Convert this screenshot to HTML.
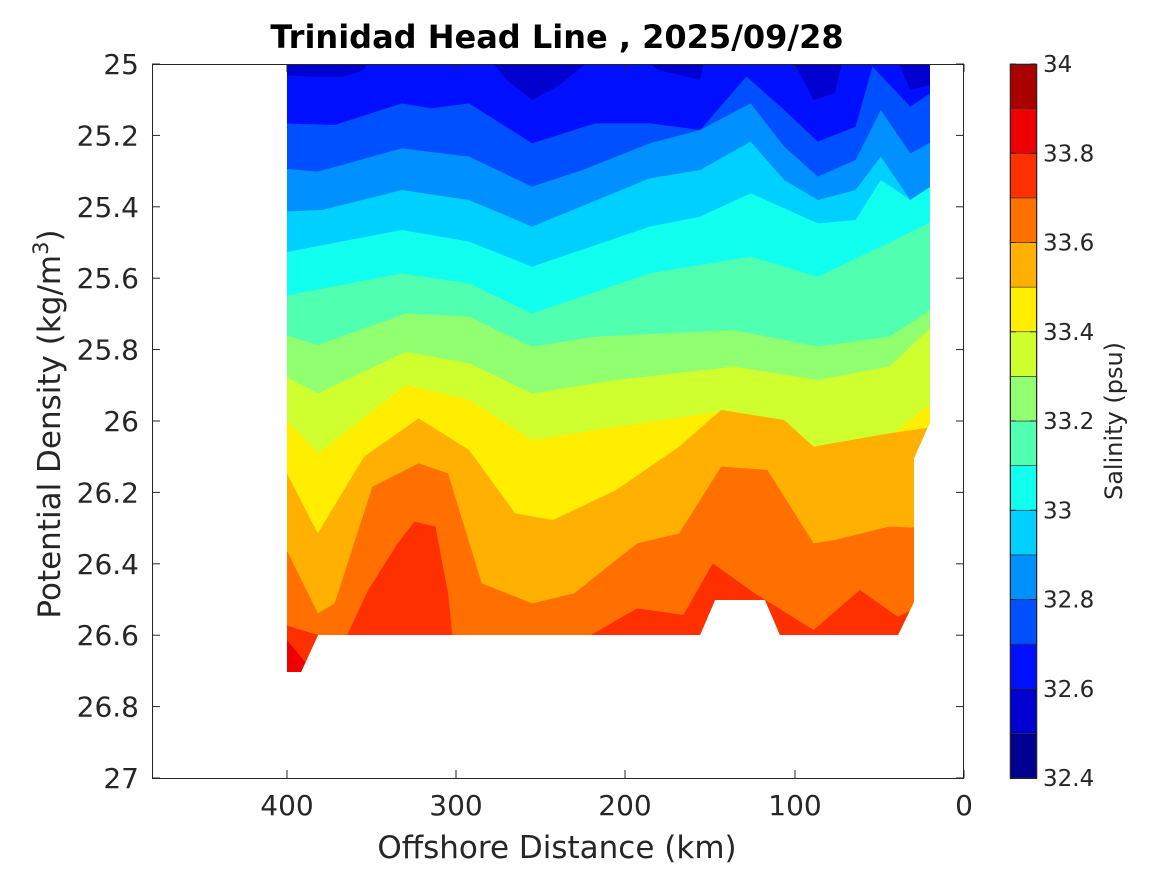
<!DOCTYPE html>
<html><head><meta charset="utf-8"><style>
body{margin:0;background:#fff;}
svg text{font-family:"DejaVu Sans","Liberation Sans",sans-serif;fill:#262626;}
</style></head><body>
<svg width="1167" height="875" viewBox="0 0 1167 875" xmlns="http://www.w3.org/2000/svg">
<defs>
<clipPath id="c"><polygon points="287,64 930,64 930,422 914,458 914,602 898,635 780,635 765,600 715,600 700,635 318,635 301,672 287,672"/></clipPath>
</defs>
<g clip-path="url(#c)" id="bands"></g>
<rect x="152.5" y="64.5" width="811" height="714" fill="none" stroke="#262626" stroke-width="1"/>
<g id="ax" stroke="#262626" stroke-width="1"></g>
<text x="557" y="48" text-anchor="middle" font-size="32" font-weight="bold" style="fill:#000">Trinidad Head Line , 2025/09/28</text>
<text x="557" y="858" text-anchor="middle" font-size="31">Offshore Distance (km)</text>
<text transform="translate(60,424) rotate(-90)" text-anchor="middle" font-size="31">Potential Density (kg/m<tspan dy="-12" font-size="21">3</tspan><tspan dy="12">)</tspan></text>
<g id="cb"></g>
<rect x="1010.5" y="64.5" width="26" height="714" fill="none" stroke="#262626"/>
<text transform="translate(1122,421) rotate(-90)" text-anchor="middle" font-size="24">Salinity (psu)</text>
</svg>
<script>
var NS="http://www.w3.org/2000/svg";
function el(p,t,a,txt){var e=document.createElementNS(NS,t);for(var k in a)e.setAttribute(k,a[k]);if(txt!==undefined)e.textContent=txt;p.appendChild(e);return e;}
var cols=["#000090","#0000d0","#0010ff","#0050ff","#0090ff","#00d0ff","#10ffef","#50ffaf","#90ff70","#d0ff30","#ffee00","#ffb000","#ff7000","#ff3000","#ee0000","#aa0000"];
function X(px){return 280+px/2.38;}
function z2(a){return a.map(function(p){return [X(p[0]),60+p[1]/3];});}
function z1(a){return a.map(function(p){return [X(p[0]),300+p[1]/3];});}
var B=[
 z2([[0,190],[130,195],[290,130],[360,145],[450,130],[600,250],[750,190],[880,190],[1000,210],[1110,50],[1200,150],[1280,245],[1370,200],[1410,20],[1500,140],[1560,90]]),
 z2([[0,325],[90,335],[290,265],[450,290],[600,380],[720,330],[880,250],[1000,210],[1120,130],[1200,260],[1280,350],[1370,300],[1430,150],[1500,280],[1560,240]]),
 z2([[0,455],[100,450],[290,390],[450,420],[600,500],[880,355],[1000,330],[1120,245],[1200,360],[1280,420],[1370,390],[1430,290],[1500,420],[1560,370]]),
 z2([[0,580],[290,510],[450,545],[600,620],[880,500],[1000,470],[1120,400],[1280,490],[1370,480],[1430,360],[1500,420],[1560,370]]),
 z2([[0,710],[290,640],[450,670],[600,760],[880,640],[1120,590],[1280,650],[1430,560],[1560,480]]),
 z1([[0,100],[90,135],[300,40],[450,50],[600,140],[750,110],[1080,90],[1280,140],[1450,110],[1560,20]]),
 z1([[0,220],[90,280],[300,155],[450,190],[600,280],[800,240],[1080,200],[1280,240],[1450,200],[1560,70]]),
 z1([[0,340],[90,460],[300,255],[450,300],[600,420],[800,380],[1080,330],[1280,440],[1450,410],[1560,300]]),
 z1([[0,480],[90,700],[200,470],[330,355],[450,450],[560,640],[650,660],[800,570],[950,440],[1050,330],[1200,360],[1270,440],[1450,400],[1560,380]]),
 z1([[0,710],[90,940],[130,910],[220,560],[330,490],[400,520],[480,850],[600,910],[700,880],[850,730],[950,700],[1050,500],[1160,510],[1270,730],[1320,720],[1450,680],[1560,685]]),
 z1([[0,970],[90,1005],[160,1005],[210,870],[280,730],[320,665],[370,680],[400,880],[410,1005],[412,1200],[735,1200],[740,1005],[850,925],[960,945],[1030,790],[1130,880],[1270,990],[1380,870],[1470,950],[1560,900]]),
 [[280,637],[287,640],[310,668],[330,720],[940,720]]
];
var g=document.getElementById("bands");
el(g,"rect",{x:280,y:60,width:660,height:620,fill:cols[2]});
var dark=[z2([[0,40],[0,45],[80,50],[150,50],[200,30],[210,0]]),z2([[500,0],[540,60],[600,120],[660,80],[740,0]]),z2([[870,0],[900,30],[1000,60],[1010,0]]),z2([[1220,0],[1270,120],[1320,100],[1340,0]]),z2([[1470,0],[1500,90],[1560,70],[1560,0]])];
dark.forEach(function(d){el(g,"polygon",{points:d.map(function(p){return p.join(",");}).join(" ")+" "+d[0][0]+",60",fill:cols[1]});});
for(var i=0;i<B.length;i++){var pts=B[i];
var p="278,"+pts[0][1]+" "+pts.map(function(q){return q.join(",");}).join(" ")+" 940,"+pts[pts.length-1][1]+" 940,720 278,720";
el(g,"polygon",{points:p,fill:cols[i+3]});}
var ax=document.getElementById("ax"),svg=document.querySelector("svg");
for(var k=0;k<=10;k++){var y=64+k*71.4;
el(ax,"line",{x1:152,y1:y,x2:160,y2:y});el(ax,"line",{x1:964,y1:y,x2:956,y2:y});
var s=(Math.round((25+k*0.2)*10)/10).toString();
el(svg,"text",{x:139,y:y+10,"text-anchor":"end","font-size":28},s);}
[[0,964],[100,795],[200,625],[300,456],[400,287]].forEach(function(a){
el(ax,"line",{x1:a[1],y1:778,x2:a[1],y2:770});el(ax,"line",{x1:a[1],y1:64,x2:a[1],y2:72});
el(svg,"text",{x:a[1],y:815,"text-anchor":"middle","font-size":28},a[0]);});
var cb=document.getElementById("cb");
for(var i=0;i<16;i++){var y0=778-(i+1)*44.625;el(cb,"rect",{x:1010,y:y0,width:27,height:44.625,fill:cols[i],stroke:"#333","stroke-width":0.6});}
for(var i=0;i<=8;i++){var y=778-i*89.25;var v=(32.4+i*0.2).toFixed(1).replace(/\.0$/,"");
el(svg,"line",{x1:1010,y1:y,x2:1016,y2:y,stroke:"#262626"});el(svg,"line",{x1:1036,y1:y,x2:1030,y2:y,stroke:"#262626"});
el(svg,"text",{x:1043,y:y+8,"font-size":23},v);}
</script>
</body></html>
